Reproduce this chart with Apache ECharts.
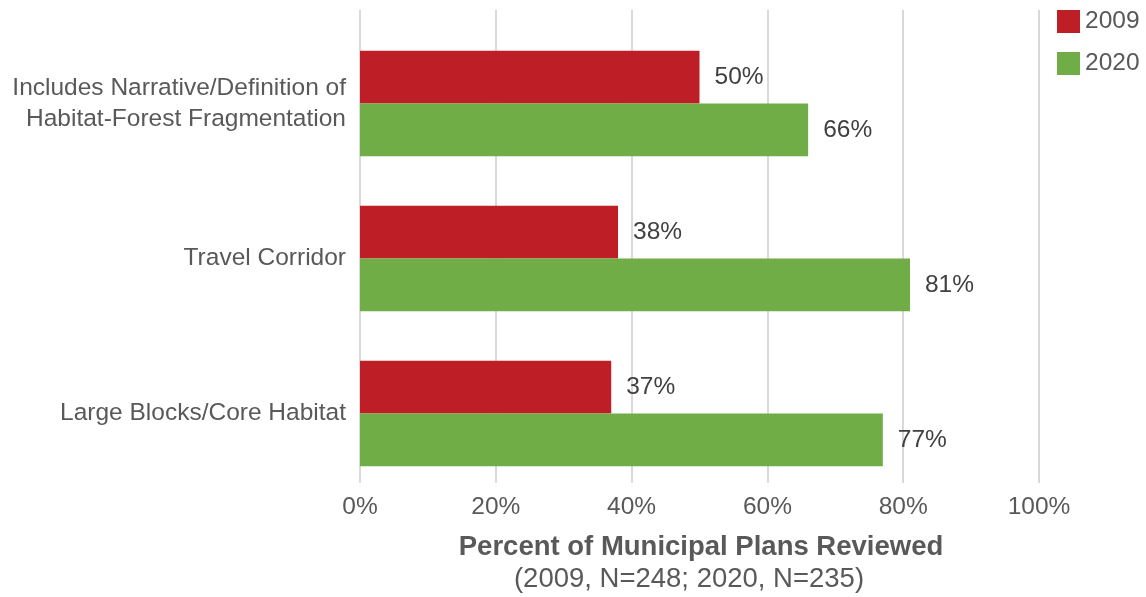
<!DOCTYPE html>
<html>
<head>
<meta charset="utf-8">
<script src="https://cdn.jsdelivr.net/npm/echarts@6/dist/echarts.min.js"></script>
<style>
  html, body { margin: 0; padding: 0; background: #ffffff; }
  #chart { width: 1146px; height: 597px; }
</style>
</head>
<body>
<div id="chart"></div>
<script>
// Plan content topics, top to bottom
const categories = [
  'Includes Narrative/Definition of\nHabitat-Forest Fragmentation',
  'Travel Corridor',
  'Large Blocks/Core Habitat'
];
// Share of municipal plans that address each topic (%)
const values2009 = [50, 38, 37];
const values2020 = [66, 81, 77];
const seriesNames = ['2009', '2020'];
const xTicks = [0, 20, 40, 60, 80, 100];

const FONT = '"Liberation Sans", Arial, sans-serif';
const TEXT = '#595959';

const chart = echarts.init(document.getElementById('chart'), null, { renderer: 'canvas' });

const valueLabel = {
  show: true,
  position: 'right',
  distance: 15,
  formatter: p => p.value + '%',
  fontFamily: FONT,
  fontSize: 24.5,
  color: '#404040'
};

chart.setOption({
  animation: false,
  backgroundColor: '#ffffff',
  textStyle: { fontFamily: FONT },
  legend: {
    data: seriesNames,
    orient: 'vertical',
    left: 1057,
    top: 9,
    padding: 0,
    icon: 'rect',
    itemWidth: 23,
    itemHeight: 23,
    itemGap: 17,
    textStyle: { fontFamily: FONT, fontSize: 24.5, color: TEXT }
  },
  grid: [
    // gridline frame
    { left: 360, right: 107, top: 10, height: 473, containLabel: false },
    // bars
    { left: 360, right: 107, top: 26, height: 465, containLabel: false }
  ],
  xAxis: [
    {
      gridIndex: 0,
      type: 'value',
      min: xTicks[0],
      max: xTicks[xTicks.length - 1],
      interval: 20,
      axisLine: { show: false },
      axisTick: { show: false },
      splitLine: { show: true, lineStyle: { color: '#d9d9d9', width: 2 } },
      axisLabel: {
        margin: 12,
        fontFamily: FONT,
        fontSize: 24.5,
        color: TEXT,
        formatter: v => v + '%'
      }
    },
    {
      gridIndex: 1,
      type: 'value',
      min: xTicks[0],
      max: xTicks[xTicks.length - 1],
      show: false
    }
  ],
  yAxis: [
    {
      gridIndex: 0,
      type: 'category',
      data: categories,
      show: false
    },
    {
      gridIndex: 1,
      type: 'category',
      data: categories,
      inverse: true,
      axisLine: { show: false },
      axisTick: { show: false },
      splitLine: { show: false },
      axisLabel: {
        margin: 14,
        fontFamily: FONT,
        fontSize: 24.5,
        lineHeight: 31,
        color: TEXT,
        align: 'right'
      }
    }
  ],
  series: [
    {
      name: seriesNames[0],
      type: 'bar',
      xAxisIndex: 1,
      yAxisIndex: 1,
      data: values2009,
      barGap: '0%',
      barCategoryGap: '32%',
      itemStyle: { color: '#BE1F26' },
      label: valueLabel
    },
    {
      name: seriesNames[1],
      type: 'bar',
      xAxisIndex: 1,
      yAxisIndex: 1,
      data: values2020,
      barGap: '0%',
      barCategoryGap: '32%',
      itemStyle: { color: '#70AD47' },
      label: valueLabel
    }
  ],
  graphic: [
    {
      type: 'text',
      style: {
        text: 'Percent of Municipal Plans Reviewed',
        x: 701,
        y: 547,
        align: 'center',
        verticalAlign: 'middle',
        font: 'bold 27.5px ' + FONT,
        fill: TEXT
      }
    },
    {
      type: 'text',
      style: {
        text: '(2009, N=248; 2020, N=235)',
        x: 689,
        y: 579,
        align: 'center',
        verticalAlign: 'middle',
        font: '27.5px ' + FONT,
        fill: TEXT
      }
    }
  ]
});
</script>
</body>
</html>
